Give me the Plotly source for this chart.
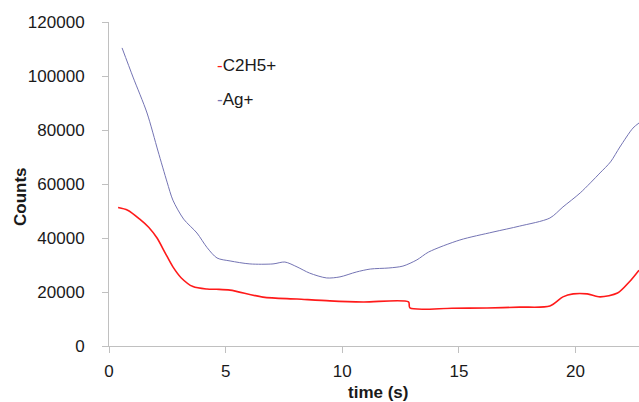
import plotly.graph_objects as go

# C2H5+ series
t_c2h5 = [0.39, 0.8, 1.33, 1.7, 2.06, 2.4, 2.74, 3.1, 3.6, 4.2, 4.6, 5.19, 6.6, 8.06, 9.47, 10.9, 12.84,
          12.9, 14.7, 16.2, 17.6, 18.9, 19.46, 19.9, 20.5, 21.05, 21.8, 22.3, 22.72]
c2h5 = [51300, 50300, 46900, 44000, 40000, 34600, 29300, 25200, 22000, 21100, 21000, 20700, 18100, 17400, 16700, 16300, 16300,
        14100, 14000, 14100, 14400, 14800, 18200, 19300, 19300, 18200, 19600, 23700, 28100]

# Ag+ series
t_ag = [0.56, 1.03, 1.63, 2.1, 2.49, 2.74, 3.2, 3.77, 4.2, 4.63, 5.19, 6.04, 7.03, 7.54, 8.06, 8.6, 9.33, 9.9, 10.6, 11.2,
        12.0, 12.6, 13.2, 13.7, 15.04, 16.46, 17.6, 18.9, 19.46, 20.2, 21.05, 21.5, 21.9, 22.46, 22.72]
ag = [110400, 99600, 86300, 72200, 60700, 54000, 47000, 41850, 36500, 32600, 31500, 30400, 30400, 31100, 29300, 27000, 25200, 25600, 27400, 28500,
      28900, 29600, 31900, 34800, 39260, 42200, 44400, 47400, 51500, 56700, 64100, 68200, 73700, 80700, 82600]

x_ticks = [0, 5, 10, 15, 20]
y_ticks = [0, 20000, 40000, 60000, 80000, 100000, 120000]

font_family = "Liberation Sans, Arial, sans-serif"
red = "#ff1a1a"
blue = "#7474b4"

fig = go.Figure()
fig.add_trace(go.Scatter(x=t_c2h5, y=c2h5, mode="lines", name="C2H5+",
                         line=dict(color=red, width=1.6, shape="spline", smoothing=0.8),
                         showlegend=False))
fig.add_trace(go.Scatter(x=t_ag, y=ag, mode="lines", name="Ag+",
                         line=dict(color=blue, width=1, shape="spline", smoothing=0.8),
                         showlegend=False))

fig.add_annotation(x=0.2, y=0.867, xref="paper", yref="paper", xanchor="left", yanchor="middle",
                   text=f"<span style='color:{red}'>-</span>C2H5+", showarrow=False,
                   font=dict(size=17, color="#1a1a1a", family=font_family))
fig.add_annotation(x=0.2, y=0.762, xref="paper", yref="paper", xanchor="left", yanchor="middle",
                   text=f"<span style='color:{blue}'>-</span>Ag+", showarrow=False,
                   font=dict(size=17, color="#1a1a1a", family=font_family))

# axis titles
fig.add_annotation(x=-0.166, y=0.46, xref="paper", yref="paper", xanchor="center", yanchor="middle",
                   text="<b>Counts</b>", textangle=-90, showarrow=False,
                   font=dict(size=17, color="#1a1a1a", family=font_family))
fig.add_annotation(x=0.5075, y=-0.145, xref="paper", yref="paper", xanchor="center", yanchor="middle",
                   text="<b>time (s)</b>", showarrow=False,
                   font=dict(size=17, color="#1a1a1a", family=font_family))

fig.update_layout(
    width=639, height=402,
    margin=dict(l=109, r=0, t=22, b=56),
    paper_bgcolor="white", plot_bgcolor="white",
    font=dict(family=font_family, size=17, color="#1a1a1a"),
    xaxis=dict(range=[0, 22.72], tickvals=x_ticks, ticktext=[str(v) for v in x_ticks],
               showgrid=False, zeroline=False,
               showline=True, linecolor="#c0c0c0", linewidth=1,
               ticks="outside", ticklen=6, tickcolor="#c0c0c0", ticklabelstandoff=4),
    yaxis=dict(range=[0, 120000], tickvals=y_ticks, ticktext=[str(v) for v in y_ticks],
               showgrid=False, zeroline=False,
               showline=True, linecolor="#c0c0c0", linewidth=1,
               ticks="outside", ticklen=6, tickcolor="#c0c0c0", ticklabelstandoff=14),
)

fig.write_html("out.html")
